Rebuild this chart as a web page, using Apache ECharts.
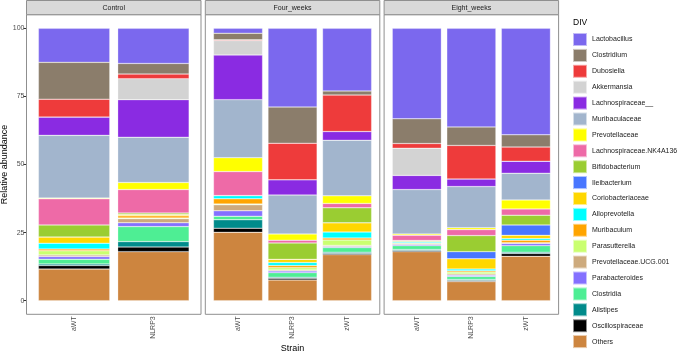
<!DOCTYPE html>
<html>
<head>
<meta charset="utf-8">
<script src="https://cdn.jsdelivr.net/npm/echarts@6/dist/echarts.min.js"></script>
<style>
  html, body { margin: 0; padding: 0; background: #fff; }
  #chart { width: 677px; height: 353px; }
</style>
</head>
<body>
<div id="chart"></div>
<script>
// taxa, listed bottom of the stack first
const taxa = [
  "Others", "Oscillospiraceae", "Alistipes", "Clostridia", "Parabacteroides",
  "Prevotellaceae.UCG.001", "Parasutterella", "Muribaculum", "Alloprevotella",
  "Coriobacteriaceae", "Ileibacterium", "Bifidobacterium", "Lachnospiraceae.NK4A136",
  "Prevotellaceae", "Muribaculaceae", "Lachnospiraceae__", "Akkermansia",
  "Dubosiella", "Clostridium", "Lactobacillus"
]
const taxonColors = [
  "#CD853F", "#000000", "#008B8B", "#4EEE94", "#8470FF",
  "#CDAA7D", "#CAFF70", "#FFA500", "#00FFFF",
  "#FFD700", "#4876FF", "#9ACD32", "#EE6AA7",
  "#FFFF00", "#A2B5CD", "#8A2BE2", "#D3D3D3",
  "#EE3B3B", "#8B7D6B", "#7B68EE"
]

const facets = ["Control", "Four_weeks", "Eight_weeks"]
const controlStrains = ["aWT", "NLRP3"]
const fourStrains = ["aWT", "NLRP3", "zWT"]
const eightStrains = ["aWT", "NLRP3", "zWT"]

// relative abundance (%) per bar, same order as taxa
const control_aWT   = [11.6, 1.3, 0.6, 1.7, 1.0, 0.6, 1.5, 0.7, 2.1, 2.3, 0, 4.4, 9.6, 0.3, 23.0, 6.7, 0, 6.6, 13.5, 12.5]
const control_NLRP3 = [18.0, 1.7, 2.0, 5.5, 1.4, 1.5, 0.3, 0.8, 0, 0.4, 0, 0.6, 8.6, 2.6, 16.6, 13.8, 7.7, 1.7, 3.9, 12.9]
const four_aWT      = [25.1, 1.5, 3.1, 1.3, 2.0, 2.2, 0.3, 1.9, 1.2, 0, 0, 0, 8.8, 5.1, 21.3, 16.4, 5.3, 0.3, 2.4, 1.8]
const four_NLRP3    = [7.6, 0.6, 0.4, 1.7, 0.6, 0.4, 0.8, 0.8, 1.1, 1.2, 0, 6.0, 1.0, 2.3, 14.3, 5.6, 0, 13.4, 13.3, 28.9]
const four_zWT      = [16.9, 0.4, 0.5, 1.7, 0.4, 0.4, 2.0, 0.7, 2.2, 3.4, 0, 5.5, 1.6, 2.8, 20.4, 3.2, 0, 13.4, 1.5, 23.0]
const eight_aWT     = [18.0, 0.4, 0.4, 1.4, 0.4, 0.4, 0.3, 0, 0.4, 0.4, 0, 0, 1.9, 0.5, 16.3, 5.2, 10.0, 1.7, 9.1, 33.2]
const eight_NLRP3   = [7.0, 0.4, 0.4, 1.1, 0.4, 0.5, 0.7, 0.5, 0.6, 3.8, 2.6, 5.9, 2.2, 0.7, 15.1, 2.8, 0, 12.3, 6.8, 36.2]
const eight_zWT     = [16.3, 1.0, 0.5, 2.4, 0.8, 0.3, 0, 0.9, 0.6, 1.2, 3.8, 3.6, 2.3, 3.3, 9.8, 4.4, 0, 5.2, 4.5, 39.1]

const yTicks = [0, 25, 50, 75, 100]

const facetStrains = [controlStrains, fourStrains, eightStrains]
const facetBars = [
  [control_aWT, control_NLRP3],
  [four_aWT, four_NLRP3, four_zWT],
  [eight_aWT, eight_NLRP3, eight_zWT]
]

// layout (ggplot-like facets)
const FONT = "Liberation Sans, Arial, sans-serif"
const panelTop = 14.7, panelBottom = 314.3
const panelW = 174.5, panelGap = 4.3, firstLeft = 26.5
const pxPerUnit = (panelBottom - panelTop) / 110   // y range -5..105
const zeroY = panelBottom - 5 * pxPerUnit
const hundredY = zeroY - 100 * pxPerUnit

let grids = [], xAxes = [], yAxes = [], series = [], graphics = []

facets.forEach((facet, i) => {
  const strains = facetStrains[i]
  const n = strains.length
  const pLeft = firstLeft + i * (panelW + panelGap)
  const unit = panelW / (n + 0.2)
  const dataLeft = pLeft + 0.1 * unit

  grids.push({
    left: dataLeft, width: n * unit,
    top: hundredY, height: zeroY - hundredY,
    containLabel: false
  })
  xAxes.push({
    type: "category", gridIndex: i, data: strains,
    offset: panelBottom - zeroY,
    axisLine: { show: false },
    axisTick: { alignWithLabel: true, length: 3, lineStyle: { color: "#333" } },
    axisLabel: { rotate: 90, fontSize: 7, color: "#4d4d4d", margin: 2, fontFamily: FONT }
  })
  yAxes.push({
    type: "value", gridIndex: i, min: 0, max: 100, interval: 25,
    offset: dataLeft - pLeft,
    show: i === 0,
    axisLine: { show: false },
    axisTick: { show: true, length: 3, lineStyle: { color: "#333" } },
    axisLabel: { fontSize: 7, color: "#4d4d4d", margin: 2, fontFamily: FONT },
    splitLine: { show: false }
  })

  taxa.forEach((t, k) => {
    series.push({
      type: "bar", name: t, stack: "s" + i,
      xAxisIndex: i, yAxisIndex: i,
      barWidth: "90%",
      itemStyle: { color: taxonColors[k], borderColor: "rgba(255,255,255,0.55)", borderWidth: 0.5 },
      emphasis: { disabled: true },
      data: facetBars[i].map(bar => bar[k])
    })
  })

  // panel border and strip
  graphics.push({
    type: "rect", z: 10,
    shape: { x: pLeft, y: panelTop, width: panelW, height: panelBottom - panelTop },
    style: { fill: "none", stroke: "#8f8f8f", lineWidth: 1 }
  })
  graphics.push({
    type: "rect", z: 10,
    shape: { x: pLeft, y: 0.5, width: panelW, height: panelTop - 0.5 },
    style: { fill: "#d9d9d9", stroke: "#8f8f8f", lineWidth: 1 }
  })
  graphics.push({
    type: "text", z: 11, x: pLeft + panelW / 2, y: panelTop / 2 + 0.5,
    style: { text: facet, fontSize: 7, fill: "#1a1a1a", fontFamily: FONT, align: "center", verticalAlign: "middle" }
  })
})

graphics.push({
  type: "text", x: 5, y: (panelTop + panelBottom) / 2, rotation: Math.PI / 2,
  style: { text: "Relative abundance", fontSize: 9, fill: "#000", fontFamily: FONT, align: "center", verticalAlign: "middle" }
})
graphics.push({
  type: "text", x: firstLeft + 1.5 * panelW + panelGap, y: 349,
  style: { text: "Strain", fontSize: 9, fill: "#000", fontFamily: FONT, align: "center", verticalAlign: "middle" }
})
graphics.push({
  type: "text", x: 573, y: 23,
  style: { text: "DIV", fontSize: 8.5, fill: "#000", fontFamily: FONT, align: "left", verticalAlign: "middle" }
})

const chart = echarts.init(document.getElementById("chart"), null, { renderer: "canvas" })
chart.setOption({
  animation: false,
  backgroundColor: "#fff",
  grid: grids,
  xAxis: xAxes,
  yAxis: yAxes,
  legend: {
    orient: "vertical", left: 572, top: 32,
    data: taxa.slice().reverse(),
    icon: "rect", itemWidth: 14, itemHeight: 13, itemGap: 0.9,
    padding: 0, selectedMode: false,
    textStyle: { fontSize: 7, color: "#1a1a1a", fontFamily: FONT }
  },
  graphic: graphics,
  series: series
})
</script>
</body>
</html>
